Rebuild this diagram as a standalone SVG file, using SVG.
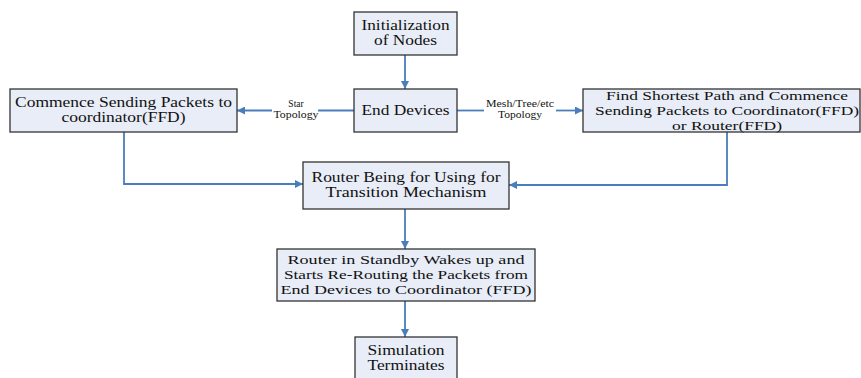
<svg xmlns="http://www.w3.org/2000/svg" width="861" height="378" viewBox="0 0 861 378">
<defs>
<marker id="ah" viewBox="0 0 10 10" refX="10" refY="5" markerWidth="8" markerHeight="8" markerUnits="userSpaceOnUse" orient="auto">
<path d="M0,0 L10,5 L0,10 z" fill="#4a7ebb"/>
</marker>
</defs>
<style>
.box{fill:#e8edf7;stroke:#333;stroke-width:1.3}
.t{font-size:14.5px;fill:#111;text-anchor:middle}
.m{font-size:13px;fill:#111;text-anchor:middle}
.s{font-size:9.5px;fill:#111;text-anchor:middle}
.c{fill:none;stroke:#4a7ebb;stroke-width:1.8;marker-end:url(#ah)}
.l{fill:none;stroke:#4a7ebb;stroke-width:1.8}
</style>
<rect width="861" height="378" fill="#fff"/>
<g font-family="Liberation Serif, Times New Roman, DejaVu Serif, serif">
<g id="connectors">
<path class="c" d="M405,55 V89"/>
<path class="l" d="M354,110.5 H318"/>
<path class="c" d="M272,110.5 H237"/>
<path class="l" d="M457,110.5 H484"/>
<path class="c" d="M556,110.5 H583"/>
<path class="c" d="M124,132 V184 H303"/>
<path class="c" d="M727,132 V185 H509"/>
<path class="c" d="M405,209 V249"/>
<path class="c" d="M405,301 V337"/>
<text class="s" x="296" y="107">Star</text>
<text class="s" x="296" y="118" textLength="45" lengthAdjust="spacingAndGlyphs">Topology</text>
<text class="s" x="520" y="107" textLength="68" lengthAdjust="spacingAndGlyphs">Mesh/Tree/etc</text>
<text class="s" x="520" y="118" textLength="44" lengthAdjust="spacingAndGlyphs">Topology</text>
</g>
<g id="init">
<rect class="box" x="354" y="12" width="103" height="43"/>
<text class="t" x="405.5" y="30" textLength="88" lengthAdjust="spacingAndGlyphs">Initialization</text>
<text class="t" x="405.5" y="45" textLength="63" lengthAdjust="spacingAndGlyphs">of Nodes</text>
</g>
<g id="end">
<rect class="box" x="354" y="89" width="103" height="43"/>
<text class="t" x="405.5" y="115" textLength="88" lengthAdjust="spacingAndGlyphs">End Devices</text>
</g>
<g id="commence">
<rect class="box" x="10" y="89" width="227" height="43"/>
<text class="t" x="123.5" y="107" textLength="217" lengthAdjust="spacingAndGlyphs">Commence Sending Packets to</text>
<text class="t" x="123.5" y="122" textLength="124" lengthAdjust="spacingAndGlyphs">coordinator(FFD)</text>
</g>
<g id="find">
<rect class="box" x="583" y="89" width="277" height="43"/>
<text class="m" x="727" y="100" textLength="242" lengthAdjust="spacingAndGlyphs">Find Shortest Path and Commence</text>
<text class="m" x="727" y="115" textLength="264" lengthAdjust="spacingAndGlyphs">Sending Packets to Coordinator(FFD)</text>
<text class="m" x="727" y="129.5" textLength="110" lengthAdjust="spacingAndGlyphs">or Router(FFD)</text>
</g>
<g id="router">
<rect class="box" x="303" y="162" width="206" height="47"/>
<text class="t" x="406" y="182" textLength="189" lengthAdjust="spacingAndGlyphs">Router Being for Using for</text>
<text class="t" x="406" y="197" textLength="161" lengthAdjust="spacingAndGlyphs">Transition  Mechanism</text>
</g>
<g id="standby">
<rect class="box" x="277" y="249" width="258" height="52"/>
<text class="m" x="406" y="264" textLength="237" lengthAdjust="spacingAndGlyphs">Router in Standby Wakes up and</text>
<text class="m" x="406" y="279" textLength="244" lengthAdjust="spacingAndGlyphs">Starts Re-Routing the Packets from</text>
<text class="m" x="406" y="294" textLength="251" lengthAdjust="spacingAndGlyphs">End Devices to Coordinator (FFD)</text>
</g>
<g id="sim">
<rect class="box" x="355" y="337" width="102" height="45"/>
<text class="t" x="406" y="355" textLength="77" lengthAdjust="spacingAndGlyphs">Simulation</text>
<text class="t" x="406" y="370" textLength="77" lengthAdjust="spacingAndGlyphs">Terminates</text>
</g>
</g>
</svg>
